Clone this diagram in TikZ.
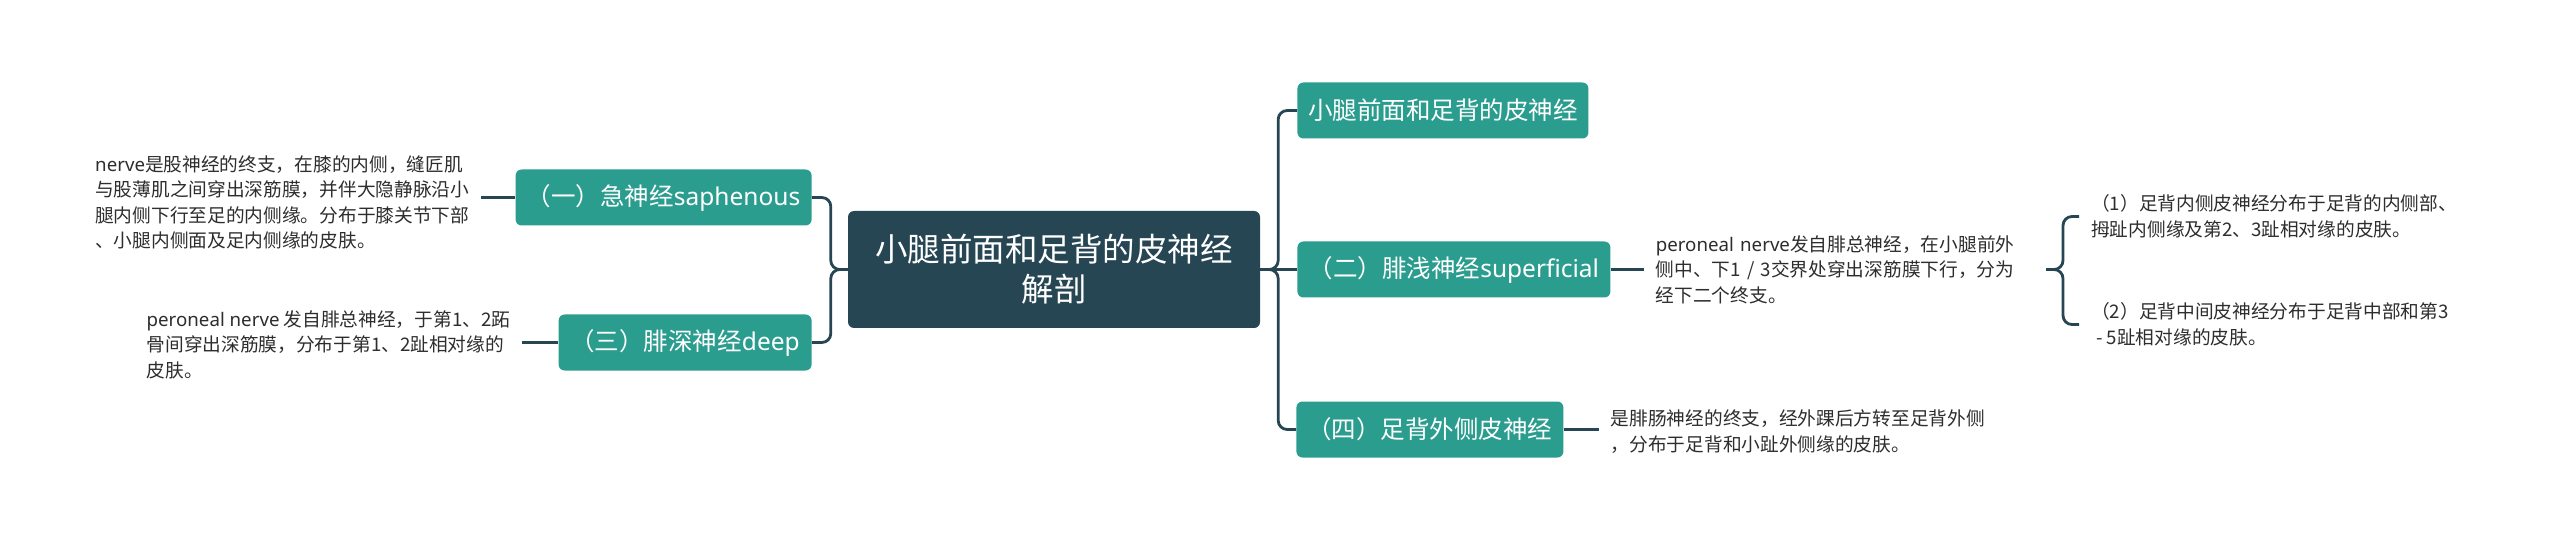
\documentclass[tikz,border=0pt]{standalone}
\usepackage{fontspec}
\setmainfont{Noto Sans CJK SC}
\newfontfamily\latinfont{Noto Sans}
\newcommand{\lat}[1]{{\latinfont #1}}
\usepackage{xcolor}
\usetikzlibrary{positioning}
\definecolor{rootcolor}{RGB}{38, 70, 83}
\definecolor{topiccolor}{RGB}{43, 157, 143}
\definecolor{leafcolor}{RGB}{45, 45, 45}
\tikzstyle{rootbox} = [
	fill=rootcolor,
	text=white,
	rounded corners=6pt,
	minimum width=412pt,
	minimum height=117pt,
	align=center,
	font=\fontsize{32.5}{40}\selectfont
]
\tikzstyle{topicbox} = [
	fill=topiccolor,
	text=white,
	rounded corners=6pt,
	minimum height=56pt,
	font=\fontsize{24.5}{30}\selectfont
]
\tikzstyle{leaftext} = [
	text=leafcolor,
	align=left,
	inner xsep=12pt,
	inner ysep=0pt,
	font=\fontsize{18.7}{25.5}\selectfont
]
\tikzstyle{link} = [
	draw=rootcolor,
	line width=2.8pt,
	rounded corners=9pt
]
\begin{document}
\begin{tikzpicture}[x=1pt, y=-1pt]
	\useasboundingbox (0,0) rectangle (2560,545);
	
	%
	% Root
	\node[rootbox] (root) at (1054,269.5) {小腿前面和足背的皮神经\\解剖};
	
	%
	% Right topics
	\node[topicbox, minimum width=291pt, right=37pt of root, yshift=159pt] (front) {小腿前面和足背的皮神经};
	\node[topicbox, minimum width=313pt, right=37pt of root] (superf) {（二）腓浅神经\lat{superficial}};
	\node[topicbox, minimum width=267pt, right=36pt of root, yshift=-160pt] (lateral) {（四）足背外侧皮神经};
	
	%
	% Left topics
	\node[topicbox, minimum width=296pt, left=36pt of root, yshift=72pt] (saph) {（一）急神经\lat{saphenous}};
	\node[topicbox, minimum width=253pt, left=36pt of root, yshift=-73pt] (deep) {（三）腓深神经\lat{deep}};
	
	%
	% Leaf texts
	\node[leaftext, left=34pt of saph, yshift=-5pt] (saphtext) {\lat{nerve}是股神经的终支，在膝的内侧，缝匠肌\\与股薄肌之间穿出深筋膜，并伴大隐静脉沿小\\腿内侧下行至足的内侧缘。分布于膝关节下部\\、小腿内侧面及足内侧缘的皮肤。};
	\node[leaftext, left=36pt of deep, yshift=-2pt] (deeptext) {\lat{peroneal nerve} 发自腓总神经，于第1、2跖\\骨间穿出深筋膜，分布于第1、2趾相对缘的\\皮肤。};
	\node[leaftext, text width=378pt, right=33pt of superf] (superftext) {\lat{peroneal nerve}发自腓总神经，在小腿前外\\侧中、下1 / 3交界处穿出深筋膜下行，分为\\经下二个终支。};
	\node[leaftext, right=33pt of superftext, yshift=53pt] (medial) {（1）足背内侧皮神经分布于足背的内侧部、\\拇趾内侧缘及第2、3趾相对缘的皮肤。};
	\node[leaftext, right=33pt of superftext, yshift=-55pt] (intermed) {（2）足背中间皮神经分布于足背中部和第3\\\hspace*{5pt}- 5趾相对缘的皮肤。};
	\node[leaftext, right=35pt of lateral, yshift=-2pt] (lateraltext) {是腓肠神经的终支，经外踝后方转至足背外侧\\，分布于足背和小趾外侧缘的皮肤。};
	
	%
	% Links
	\draw[link] (root.east) -- ++(18,0) |- (front.west);
	\draw[link] (root.east) -- (superf.west);
	\draw[link] (root.east) -- ++(18,0) |- (lateral.west);
	\draw[link] (root.west) -- ++(-17,0) |- (saph.east);
	\draw[link] (root.west) -- ++(-17,0) |- (deep.east);
	\draw[link] (saph.west) -- (saph.west -| saphtext.east);
	\draw[link] (deep.west) -- (deep.west -| deeptext.east);
	\draw[link] (superf.east) -- (superftext.west);
	\draw[link] (lateral.east) -- (lateral.east -| lateraltext.west);
	\draw[link] (superftext.east) -- ++(17,0) |- (medial.west);
	\draw[link] (superftext.east) -- ++(17,0) |- (intermed.west);
	
\end{tikzpicture}
\end{document}
